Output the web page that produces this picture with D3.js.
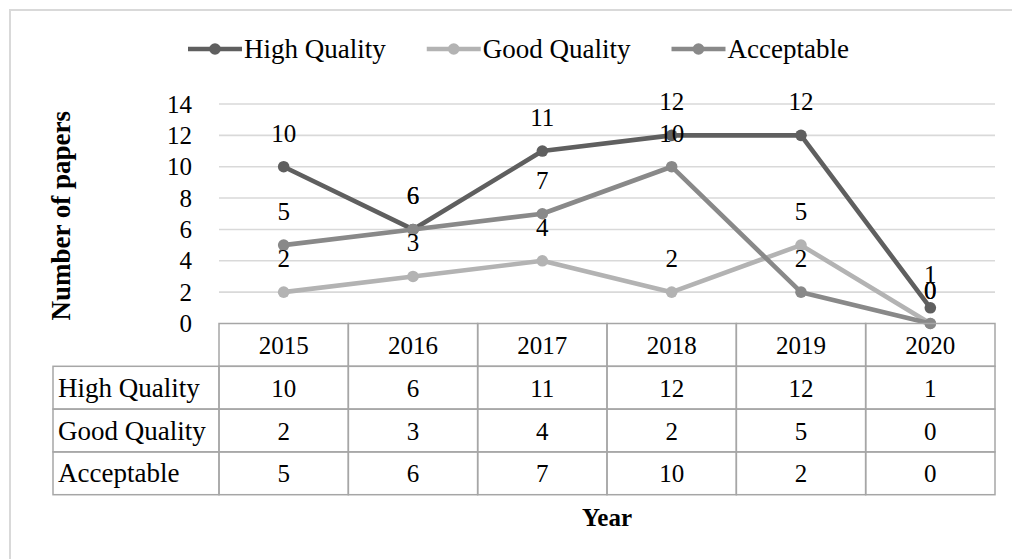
<!DOCTYPE html>
<html>
<head>
<meta charset="utf-8">
<script src="https://cdn.jsdelivr.net/npm/d3@7/dist/d3.min.js"></script>
<style>
  html, body { margin: 0; padding: 0; background: #fff; }
  svg { display: block; }
  text { font-family: "Book Antiqua", Palatino, "Palatino Linotype", "Liberation Serif", serif; fill: #000; }
</style>
</head>
<body>
<svg id="chart" width="1012" height="559"></svg>
<script>
// Papers per year by quality level
const years = ["2015", "2016", "2017", "2018", "2019", "2020"];
const seriesNames = ["High Quality", "Good Quality", "Acceptable"];
const highQuality = [10, 6, 11, 12, 12, 1];
const goodQuality = [2, 3, 4, 2, 5, 0];
const acceptable = [5, 6, 7, 10, 2, 0];
const yTicks = [0, 2, 4, 6, 8, 10, 12, 14];
const seriesColors = ["#5f5f5f", "#b3b3b3", "#898989"];

const series = [
  { name: seriesNames[0], values: highQuality, color: seriesColors[0] },
  { name: seriesNames[1], values: goodQuality, color: seriesColors[1] },
  { name: seriesNames[2], values: acceptable, color: seriesColors[2] }
];

const svg = d3.select("#chart");
const W = 1012, H = 559;
const numSize = 25;   // digits
const nameSize = 27;  // series names

// outer frame
svg.append("rect")
  .attr("x", 10).attr("y", 10)
  .attr("width", W + 20).attr("height", H + 20)
  .attr("fill", "none").attr("stroke", "#d9d9d9").attr("stroke-width", 2);

const plot = { left: 219, right: 995, top: 104, bottom: 323.5 };

const x = d3.scaleBand().domain(years).range([plot.left, plot.right]);
const y = d3.scaleLinear().domain([0, 14]).range([plot.bottom, plot.top]);

// horizontal gridlines
svg.append("g").selectAll("line")
  .data(yTicks.filter(t => t > 0))
  .join("line")
  .attr("x1", plot.left).attr("x2", plot.right)
  .attr("y1", d => y(d)).attr("y2", d => y(d))
  .attr("stroke", "#d9d9d9").attr("stroke-width", 1.6);

// y axis labels
const yAxis = d3.axisLeft(y).tickValues(yTicks).tickSize(0).tickPadding(0);
const yg = svg.append("g").attr("transform", `translate(${192},0)`).call(yAxis);
yg.select(".domain").remove();
yg.selectAll("text")
  .attr("font-size", numSize)
  .attr("font-family", null)
  .attr("dy", "0.32em")
  .attr("fill", "#000");

// y axis title
svg.append("text")
  .attr("transform", `translate(70,${(plot.top + plot.bottom) / 2 + 2}) rotate(-90)`)
  .attr("text-anchor", "middle")
  .attr("font-size", 27)
  .attr("font-weight", "bold")
  .text("Number of papers");

// lines and markers
const line = d3.line()
  .x((d, i) => x(years[i]) + x.bandwidth() / 2)
  .y(d => y(d));

series.forEach(s => {
  const g = svg.append("g");
  g.append("path")
    .attr("d", line(s.values))
    .attr("fill", "none")
    .attr("stroke", s.color)
    .attr("stroke-width", 4.6)
    .attr("stroke-linejoin", "round");
  g.selectAll("circle")
    .data(s.values)
    .join("circle")
    .attr("cx", (d, i) => x(years[i]) + x.bandwidth() / 2)
    .attr("cy", d => y(d))
    .attr("r", 5.8)
    .attr("fill", s.color);
});

// data labels
series.forEach(s => {
  svg.append("g").selectAll("text")
    .data(s.values)
    .join("text")
    .attr("x", (d, i) => x(years[i]) + x.bandwidth() / 2)
    .attr("y", d => y(d) - 25)
    .attr("text-anchor", "middle")
    .attr("font-size", numSize)
    .text(d => d);
});

// data table
const rowH = 42.8;
const tableTop = plot.bottom;
const labelLeft = 53;
const tbl = svg.append("g");
const border = "#a6a6a6";

// header row (years)
years.forEach((yr, i) => {
  tbl.append("rect")
    .attr("x", x(yr)).attr("y", tableTop)
    .attr("width", x.bandwidth()).attr("height", rowH)
    .attr("fill", "none").attr("stroke", border).attr("stroke-width", 1.5);
  tbl.append("text")
    .attr("x", x(yr) + x.bandwidth() / 2)
    .attr("y", tableTop + rowH / 2 + 9)
    .attr("text-anchor", "middle")
    .attr("font-size", numSize)
    .text(yr);
});

series.forEach((s, r) => {
  const ry = tableTop + rowH * (r + 1);
  tbl.append("rect")
    .attr("x", labelLeft).attr("y", ry)
    .attr("width", plot.left - labelLeft).attr("height", rowH)
    .attr("fill", "none").attr("stroke", border).attr("stroke-width", 1.5);
  tbl.append("text")
    .attr("x", labelLeft + 5)
    .attr("y", ry + rowH / 2 + 9)
    .attr("font-size", nameSize)
    .text(s.name);
  s.values.forEach((v, i) => {
    tbl.append("rect")
      .attr("x", x(years[i])).attr("y", ry)
      .attr("width", x.bandwidth()).attr("height", rowH)
      .attr("fill", "none").attr("stroke", border).attr("stroke-width", 1.5);
    tbl.append("text")
      .attr("x", x(years[i]) + x.bandwidth() / 2)
      .attr("y", ry + rowH / 2 + 9)
      .attr("text-anchor", "middle")
      .attr("font-size", numSize)
      .text(v);
  });
});

// x axis title
svg.append("text")
  .attr("x", (plot.left + plot.right) / 2)
  .attr("y", 526)
  .attr("text-anchor", "middle")
  .attr("font-size", 25)
  .attr("font-weight", "bold")
  .text("Year");

// legend
const legend = svg.append("g");
let lx = 188;
const ly = 49;
series.forEach(s => {
  legend.append("line")
    .attr("x1", lx).attr("x2", lx + 54)
    .attr("y1", ly).attr("y2", ly)
    .attr("stroke", s.color).attr("stroke-width", 4.6);
  legend.append("circle")
    .attr("cx", lx + 27).attr("cy", ly).attr("r", 5.8)
    .attr("fill", s.color);
  const t = legend.append("text")
    .attr("x", lx + 56).attr("y", ly + 9)
    .attr("font-size", nameSize)
    .text(s.name);
  lx += 56 + t.node().getComputedTextLength() + 41;
});
</script>
</body>
</html>
